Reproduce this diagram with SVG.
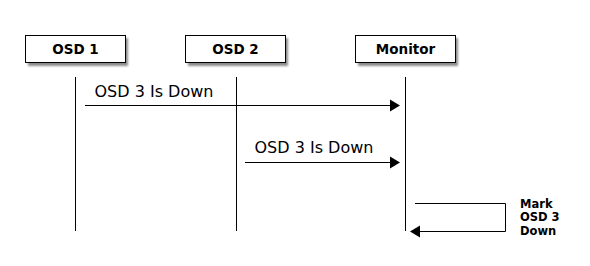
<svg xmlns="http://www.w3.org/2000/svg" width="590" height="266" viewBox="0 0 590 266">
<style>
.box{fill:#fff;stroke:#000;stroke-width:1}
.shadow{fill:#000;opacity:0.45}
.hdr{font-family:"DejaVu Sans",sans-serif;font-weight:bold;font-size:13.5px;text-anchor:middle}
.msg{font-family:"DejaVu Sans",sans-serif;font-size:16px}
.note{font-family:"DejaVu Sans",sans-serif;font-weight:bold;font-size:11.5px}
.line{stroke:#000;stroke-width:1;fill:none}
</style>
<defs>
<filter id="blur" x="-10%" y="-20%" width="120%" height="140%"><feGaussianBlur stdDeviation="1.2"/></filter>
</defs>
<rect width="590" height="266" fill="#fff"/>
<g id="lifelines">
<line class="line" x1="75.5" y1="77" x2="75.5" y2="231"/>
<line class="line" x1="236.5" y1="77" x2="236.5" y2="231"/>
<line class="line" x1="405.5" y1="77" x2="405.5" y2="231"/>
</g>
<g id="osd1">
<rect class="shadow" x="28" y="38" width="100" height="28" filter="url(#blur)"/>
<rect class="box" x="25.5" y="35.5" width="100" height="27"/>
<text class="hdr" x="75.5" y="54">OSD 1</text>
</g>
<g id="osd2">
<rect class="shadow" x="188" y="38" width="100" height="28" filter="url(#blur)"/>
<rect class="box" x="185.5" y="35.5" width="100" height="27"/>
<text class="hdr" x="235.5" y="54">OSD 2</text>
</g>
<g id="monitor">
<rect class="shadow" x="358" y="38" width="100" height="28" filter="url(#blur)"/>
<rect class="box" x="355.5" y="35.5" width="100" height="27"/>
<text class="hdr" x="405.5" y="54">Monitor</text>
</g>
<g id="connectors">
<line class="line" x1="85" y1="105.5" x2="392" y2="105.5"/>
<polygon points="400,105.5 390,99.5 390,111.5" fill="#000"/>
<text class="msg" x="94.5" y="96.5">OSD 3 Is Down</text>
<line class="line" x1="245" y1="162.5" x2="392" y2="162.5"/>
<polygon points="400,162.5 390,156.5 390,168.5" fill="#000"/>
<text class="msg" x="254.5" y="152.5">OSD 3 Is Down</text>
<polyline class="line" points="415,203.5 505.5,203.5 505.5,231.5 418,231.5"/>
<polygon points="410,231.5 420,225.5 420,237.5" fill="#000"/>
<text class="note" x="520" y="207.5">Mark</text>
<text class="note" x="520" y="221">OSD 3</text>
<text class="note" x="520" y="234.5">Down</text>
</g>
</svg>
